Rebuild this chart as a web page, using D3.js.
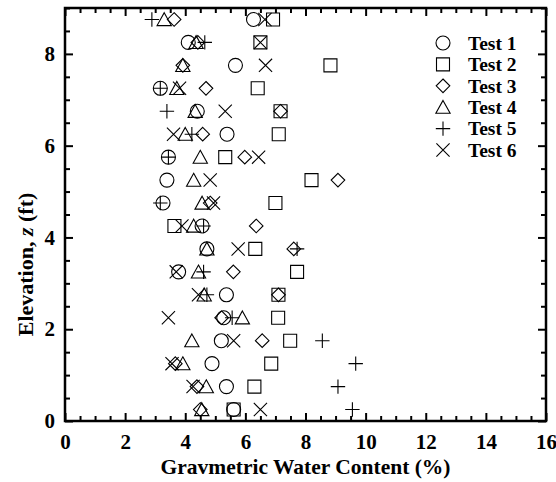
<!DOCTYPE html>
<html><head><meta charset="utf-8">
<script src="https://cdn.jsdelivr.net/npm/d3@7"></script>
<style>body{margin:0;background:#fff}svg{display:block}text{font-family:"Liberation Serif","Times New Roman",serif;font-weight:bold;fill:#000}</style>
</head><body><svg id="c" width="556" height="482"></svg>
<script>
const elevation = [0.25,0.75,1.25,1.75,2.25,2.75,3.25,3.75,4.25,4.75,5.25,5.75,6.25,6.75,7.25,7.75,8.25,8.75];
const testNames = ["Test 1","Test 2","Test 3","Test 4","Test 5","Test 6"];
const test1 = [5.61,5.37,4.89,5.20,5.28,5.37,3.78,4.72,4.56,3.26,3.39,3.44,5.39,4.40,3.17,5.67,4.10,6.27];
const test2 = [5.61,6.30,6.86,7.49,7.09,7.10,7.72,6.33,3.64,7.00,8.20,5.33,7.11,7.17,6.41,8.83,6.50,6.92];
const test3 = [4.50,4.39,3.67,6.56,5.21,7.10,5.60,7.61,6.36,4.83,9.08,5.98,4.58,7.17,4.69,3.92,4.42,3.63];
const test4 = [4.55,4.70,3.92,4.22,5.90,4.63,4.44,4.72,4.28,4.56,4.28,4.50,4.00,4.33,3.72,3.92,4.36,3.30];
const test5 = [9.56,9.08,9.67,8.56,5.56,4.72,4.61,7.72,4.61,3.17,null,3.44,4.22,3.39,3.17,null,4.65,2.89];
const test6 = [6.50,4.26,3.56,5.61,3.44,4.44,3.70,5.76,3.89,4.94,4.83,6.44,3.61,5.33,3.81,6.67,6.50,6.65];
const xTickLabels = [0,2,4,6,8,10,12,14,16];
const yTickLabels = [0,2,4,6,8];

const series = [test1,test2,test3,test4,test5,test6];

const svg = d3.select("#c");
const L=65, R=546, T=8, B=421;
const x = d3.scaleLinear().domain([0,16]).range([L,R]);
const y = d3.scaleLinear().domain([0,9]).range([B,T]);

// custom symbol shapes (size = half-extent)
const sym = [
  {draw(c,s){c.moveTo(s,0);c.arc(0,0,s,0,2*Math.PI);}},
  {draw(c,s){c.rect(-s,-s,2*s,2*s);}},
  {draw(c,s){c.moveTo(0,-s);c.lineTo(s,0);c.lineTo(0,s);c.lineTo(-s,0);c.closePath();}},
  {draw(c,s){c.moveTo(0,-s);c.lineTo(s*1.05,s*0.9);c.lineTo(-s*1.05,s*0.9);c.closePath();}},
  {draw(c,s){c.moveTo(-s,0);c.lineTo(s,0);c.moveTo(0,-s);c.lineTo(0,s);}},
  {draw(c,s){c.moveTo(-s,-s);c.lineTo(s,s);c.moveTo(s,-s);c.lineTo(-s,s);}}
];
const symSize = [7,6.5,6.8,6.8,7.2,6.6];
const symPath = i => d3.symbol().type(sym[i]).size(symSize[i])();

const minor = d3.range(0,16.01,0.5).filter(v=>v%2!==0);
const minorY = d3.range(0,9.01,0.5).filter(v=>v%2!==0);
function styleAxis(g){g.select(".domain").remove();g.selectAll("line").attr("stroke","#000").attr("stroke-width",2);g.selectAll("text").attr("font-size",21).attr("font-family","Liberation Serif").attr("font-weight","bold");}

svg.append("g").attr("transform",`translate(0,${B})`).call(d3.axisBottom(x).tickValues(xTickLabels).tickSize(-8).tickPadding(13).tickFormat(d3.format("d"))).call(styleAxis);
svg.append("g").attr("transform",`translate(0,${B})`).call(d3.axisBottom(x).tickValues(minor).tickSize(-5).tickFormat("")).call(styleAxis);
svg.append("g").attr("transform",`translate(0,${T})`).call(d3.axisTop(x).tickValues(xTickLabels).tickSize(-8).tickFormat("")).call(styleAxis);
svg.append("g").attr("transform",`translate(0,${T})`).call(d3.axisTop(x).tickValues(minor).tickSize(-5).tickFormat("")).call(styleAxis);
svg.append("g").attr("transform",`translate(${L},0)`).call(d3.axisLeft(y).tickValues(yTickLabels).tickSize(-8).tickPadding(10).tickFormat(d3.format("d"))).call(styleAxis);
svg.append("g").attr("transform",`translate(${L},0)`).call(d3.axisLeft(y).tickValues(minorY).tickSize(-5).tickFormat("")).call(styleAxis);
svg.append("g").attr("transform",`translate(${R},0)`).call(d3.axisRight(y).tickValues(yTickLabels).tickSize(-8).tickFormat("")).call(styleAxis);
svg.append("g").attr("transform",`translate(${R},0)`).call(d3.axisRight(y).tickValues(minorY).tickSize(-5).tickFormat("")).call(styleAxis);

svg.append("rect").attr("x",L).attr("y",T).attr("width",R-L).attr("height",B-T)
  .attr("fill","none").attr("stroke","#000").attr("stroke-width",2.5);

series.forEach((vals,i)=>{
  svg.append("g").selectAll("path")
    .data(elevation.map((z,k)=>({z,v:vals[k]})).filter(d=>d.v!=null))
    .join("path")
    .attr("d",symPath(i))
    .attr("transform",d=>`translate(${x(d.v)},${y(d.z)})`)
    .attr("fill","none").attr("stroke","#000").attr("stroke-width",1.1);
});

const leg = svg.append("g");
testNames.forEach((n,i)=>{
  const yy = 43 + i*21.4;
  leg.append("path").attr("d",symPath(i)).attr("transform",`translate(443,${yy})`)
    .attr("fill","none").attr("stroke","#000").attr("stroke-width",1.1);
  leg.append("text").attr("x",468).attr("y",yy).attr("dy","0.35em").attr("font-size",19.5).text(n);
});

svg.append("text").attr("x",(L+R)/2).attr("y",474).attr("text-anchor","middle").attr("font-size",21.5)
  .text("Gravmetric Water Content (%)");
const yt = svg.append("text").attr("transform",`translate(33,${(T+B)/2+50}) rotate(-90)`)
  .attr("text-anchor","middle").attr("font-size",22);
yt.append("tspan").text("Elevation, ");
yt.append("tspan").attr("font-style","italic").text("z");
yt.append("tspan").text(" (ft)");
</script></body></html>
